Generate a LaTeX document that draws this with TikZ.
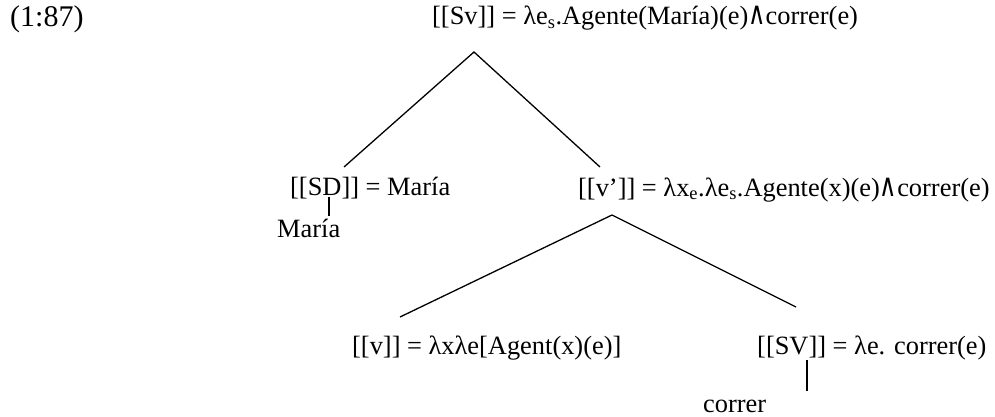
\documentclass[tikz,border=0pt]{standalone}
\usepackage{fontspec}
\usepackage{graphicx}
\setmainfont{Liberation Serif}
\newfontfamily\symfont{DejaVu Sans}
\newcommand{\myand}{\scalebox{0.9}[1.2]{\symfont ∧}}
\begin{document}
\begin{tikzpicture}[x=1pt,y=-1pt,
  lbl/.style={anchor=base west,inner sep=0pt,font=\fontsize{26.4}{30}\selectfont},
  branch/.style={line width=1.3pt}]
\useasboundingbox (0,0) rectangle (995,417);
\node[lbl,font=\fontsize{30}{34}\selectfont] (ex) at (10,27) {(1:87)};
\node[lbl] (sv) at (432,25) {[[Sv]] = λe\textsubscript{s}.Agente(María)(e)\myand correr(e)};
\node[lbl] (sd) at (290,195) {[[SD]] = María};
\node[lbl] (vbar) at (578,196) {[[v’]] = λx\textsubscript{e}.λe\textsubscript{s}.Agente(x)(e)\myand correr(e)};
\node[lbl] (maria) at (277,237) {María};
\node[lbl] (v) at (352,354) {[[v]] = λxλe[Agent(x)(e)]};
\node[lbl] (vp) at (757,354) {[[SV]] = λe. correr(e)};
\node[lbl] (correr) at (703,412) {correr};
\coordinate (a1) at (474,52);
\coordinate (sdtop) at (344,167);
\coordinate (vbartop) at (600,167);
\coordinate (a2) at (612,215);
\coordinate (vtop) at (400,317);
\coordinate (vptop) at (796,307);
\coordinate (t1a) at (329,197);
\coordinate (t1b) at (329,216);
\coordinate (t2a) at (807,360);
\coordinate (t2b) at (807,391);
\draw[branch] (sdtop) -- (a1) -- (vbartop);
\draw[branch] (vtop) -- (a2) -- (vptop);
\draw[branch] (t1a) -- (t1b);
\draw[branch] (t2a) -- (t2b);
\end{tikzpicture}
\end{document}
